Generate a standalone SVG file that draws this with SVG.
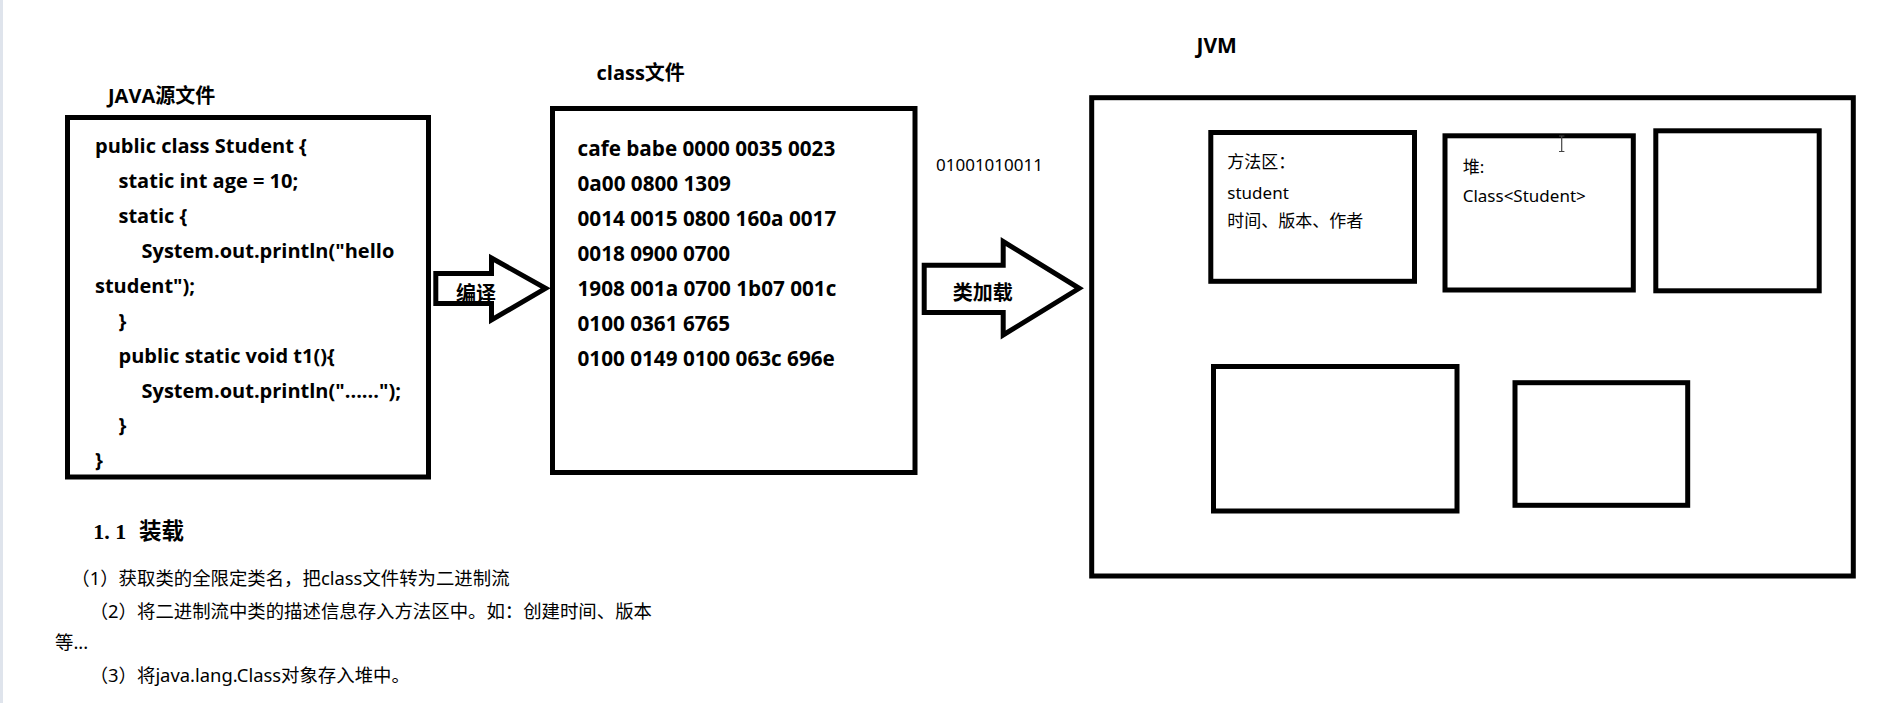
<svg xmlns="http://www.w3.org/2000/svg" width="1878" height="703" viewBox="0 0 1878 703">
  <style>
    .box { fill: #ffffff; stroke: #000000; stroke-width: 5; }
    .arrow { fill: #ffffff; stroke: #000000; stroke-width: 5; stroke-linejoin: miter; stroke-miterlimit: 10; }
    .title { font-family: "Open Sans", "Noto Sans CJK SC", sans-serif; font-weight: bold; font-size: 20px; fill: #000; }
    .code { font-family: "Open Sans", "Noto Sans CJK SC", sans-serif; font-weight: bold; font-size: 20px; fill: #000; }
    .hex { font-family: "Open Sans", sans-serif; font-weight: bold; font-size: 20.7px; fill: #000; }
    .lbl { font-family: "Noto Sans CJK SC", sans-serif; font-weight: bold; font-size: 20px; fill: #000; }
    .reg { font-family: "Noto Sans", "Noto Sans CJK SC", sans-serif; font-size: 17px; fill: #000; }
    .body { font-family: "Noto Sans", "Noto Sans CJK SC", sans-serif; font-size: 18.4px; fill: #000; }
  </style>

  <rect x="0" y="0" width="1878" height="703" fill="#ffffff"/>
  <rect x="0" y="0" width="3" height="703" fill="#dfe4ec"/>

  <!-- JAVA source file -->
  <g id="java-source">
    <text class="title" x="108" y="103">JAVA源文件</text>
    <rect class="box" x="67.5" y="117.5" width="361" height="359.5"/>
    <text class="code" x="95" y="153">public class Student {</text>
    <text class="code" x="118.5" y="188">static int age = 10;</text>
    <text class="code" x="118.5" y="222.5">static {</text>
    <text class="code" x="141.5" y="257.5">System.out.println("hello</text>
    <text class="code" x="95" y="292.5">student");</text>
    <text class="code" x="118.5" y="327.5">}</text>
    <text class="code" x="118.5" y="362.5">public static void t1(){</text>
    <text class="code" x="141.5" y="397.5">System.out.println("......");</text>
    <text class="code" x="118.5" y="432">}</text>
    <text class="code" x="95" y="467">}</text>
  </g>

  <!-- class file -->
  <g id="class-file">
    <text class="title" x="596.5" y="79.5">class文件</text>
    <rect class="box" x="552.5" y="108.5" width="362.5" height="364"/>
    <text class="hex" x="577.5" y="155.7">cafe babe 0000 0035 0023</text>
    <text class="hex" x="577.5" y="190.7">0a00 0800 1309</text>
    <text class="hex" x="577.5" y="225.7">0014 0015 0800 160a 0017</text>
    <text class="hex" x="577.5" y="260.7">0018 0900 0700</text>
    <text class="hex" x="577.5" y="295.7">1908 001a 0700 1b07 001c</text>
    <text class="hex" x="577.5" y="330.7">0100 0361 6765</text>
    <text class="hex" x="577.5" y="365.7">0100 0149 0100 063c 696e</text>
  </g>

  <!-- JVM -->
  <g id="jvm">
    <text class="title" x="1196.5" y="53.3" style="font-size:21px">JVM</text>
    <rect class="box" x="1091.7" y="97.7" width="761.6" height="478.3"/>
  </g>

  <g id="method-area">
    <rect class="box" x="1210.8" y="132.5" width="203.7" height="148.8"/>
    <text class="reg" x="1227.3" y="168">方法区：</text>
    <text class="reg" x="1227.3" y="199.3">student</text>
    <text class="reg" x="1227.3" y="226.5">时间、版本、作者</text>
  </g>

  <g id="heap">
    <rect class="box" x="1445" y="135.8" width="188.3" height="154.2"/>
    <text class="reg" x="1462.7" y="173">堆:</text>
    <text class="reg" x="1462.7" y="202.3">Class&lt;Student&gt;</text>
  </g>

  <g id="area-3">
    <rect class="box" x="1655.8" y="130.8" width="163.4" height="160"/>
  </g>

  <g id="area-4">
    <rect class="box" x="1213.5" y="366.5" width="243.5" height="144.5"/>
  </g>

  <g id="area-5">
    <rect class="box" x="1515" y="382.7" width="172.7" height="122.6"/>
  </g>

  <!-- text cursor mark -->
  <g id="cursor" stroke="#444" stroke-width="1.2" fill="none">
    <path d="M1561.7,136 V151.5 M1559,136 H1564.4 M1559,151.5 H1564.4"/>
  </g>

  <!-- connectors -->
  <g id="connectors">
    <path class="arrow" d="M435.8,273.5 L491.5,273.5 L491.5,258 L545.6,288.3 L491.5,320 L491.5,303.5 L435.8,303.5 Z"/>
    <text class="lbl" x="456" y="301">编译</text>
    <path class="arrow" d="M924.2,265.2 L1003.2,265.2 L1003.2,241.5 L1079.2,288.3 L1003.2,335 L1003.2,312.5 L924.2,312.5 Z"/>
    <text class="lbl" x="952.7" y="299.5">类加载</text>
    <text class="reg" x="936" y="170.7">01001010011</text>
  </g>

  <!-- notes below -->
  <g id="notes">
    <text x="93.3" y="539" style="font-family:'Liberation Serif',serif;font-weight:bold;font-size:22px">1. 1</text>
    <text x="139" y="539" style="font-family:'Noto Sans CJK SC',sans-serif;font-weight:bold;font-size:22.5px">装载</text>
    <text class="body" x="71.3" y="585">（1）获取类的全限定类名，把class文件转为二进制流</text>
    <text class="body" x="89.7" y="618">（2）将二进制流中类的描述信息存入方法区中。如：创建时间、版本</text>
    <text class="body" x="55" y="649">等...</text>
    <text class="body" x="89.7" y="681.5">（3）将java.lang.Class对象存入堆中。</text>
  </g>
</svg>
